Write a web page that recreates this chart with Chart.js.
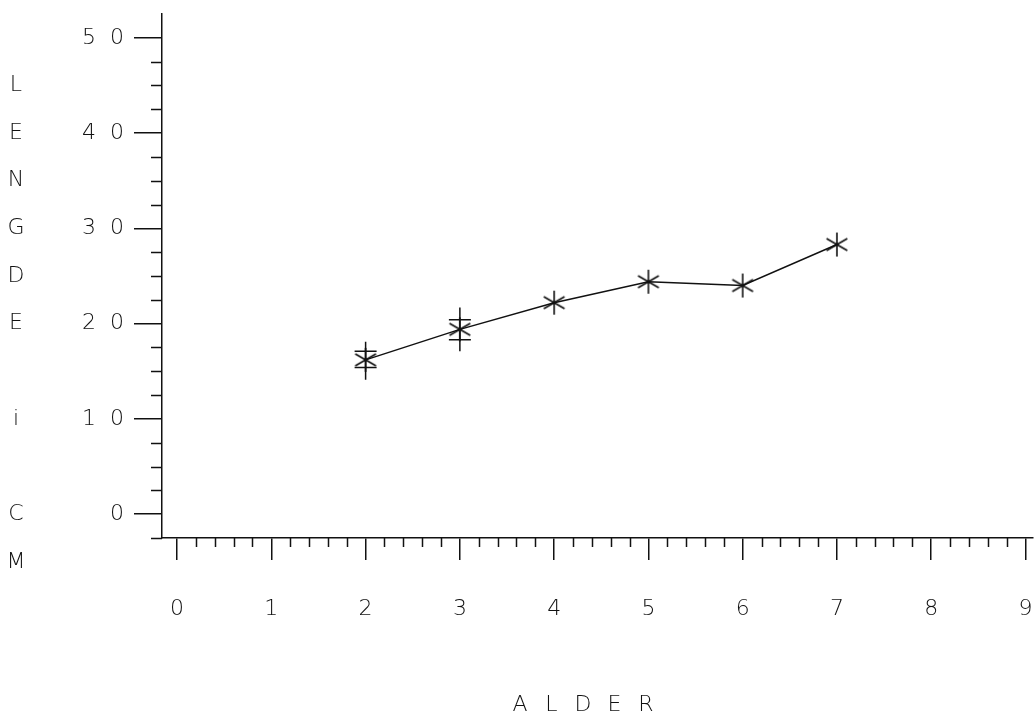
<!DOCTYPE html>
<html>
<head>
<meta charset="utf-8">
<script src="https://cdn.jsdelivr.net/npm/chart.js@4.4.1/dist/chart.umd.min.js"></script>
<style>
  html, body { margin: 0; padding: 0; background: #fff; }
  #wrap { width: 1035px; height: 723px; }
</style>
</head>
<body>
<div id="wrap"><canvas id="chart-lengde" width="1035" height="723"></canvas></div>
<script>
//---------------------data----------------------
var alder = [2, 3, 4, 5, 6, 7];
var lengde = [16.2, 19.4, 22.2, 24.4, 24.0, 28.3];

// spredning for alder 2 og 3 (linje + korte tverrstreker)
var spredAlder = [2, 3];
var spredLav = [14.1, 17.1];
var spredHoy = [18.1, 21.7];
var tverrLav = [15.4, 18.3];
var tverrHoy = [17.1, 20.4];

var xTicks = [0, 1, 2, 3, 4, 5, 6, 7, 8, 9];
var yTicks = [0, 10, 20, 30, 40, 50];
var yTittel = ['L', 'E', 'N', 'G', 'D', 'E', ' ', 'i', ' ', 'C', 'M'];
var xTittel = ['A', 'L', 'D', 'E', 'R'];

var FONT = '"DejaVu Sans", sans-serif';
var INK = '#111';

//---------------------asterisk marker----------------------
function lagStjerne(r) {
    var c = document.createElement('canvas');
    c.width = c.height = r * 2 + 4;
    var g = c.getContext('2d');
    var m = r + 2;
    g.strokeStyle = INK;
    g.lineWidth = 1.6;
    g.beginPath();
    for (var k = 0; k < 3; k++) {
        var a = Math.PI / 2 + k * Math.PI / 3;
        g.moveTo(m + Math.cos(a) * r, m - Math.sin(a) * r);
        g.lineTo(m - Math.cos(a) * r, m + Math.sin(a) * r);
    }
    g.stroke();
    return c;
}
var stjerne = lagStjerne(12);

//---------------------plugin: minor ticks, error bars, titles----------------------
var ekstra = {
    id: 'ekstra',
    afterDraw: function (chart) {
        var ctx = chart.ctx;
        var xs = chart.scales.x, ys = chart.scales.y;
        var area = chart.chartArea;
        ctx.save();
        ctx.strokeStyle = INK;
        ctx.lineWidth = 1.5;
        ctx.beginPath();
        // minor x ticks (hver 0.2)
        for (var i = 1; i < 46; i++) {
            if (i % 5 === 0) continue;
            var v = i / 5;
            if (v > xs.max) break;
            var px = Math.round(xs.getPixelForValue(v)) + 0.5;
            ctx.moveTo(px, area.bottom);
            ctx.lineTo(px, area.bottom + 9);
        }
        // minor y ticks (hver 2.5)
        for (var j = -1; j < 20; j++) {
            if (j % 4 === 0) continue;
            var py = Math.round(ys.getPixelForValue(j * 2.5)) + 0.5;
            ctx.moveTo(area.left, py);
            ctx.lineTo(area.left - 11, py);
        }
        ctx.stroke();

        // spredning
        ctx.beginPath();
        for (var s = 0; s < spredAlder.length; s++) {
            var sx = xs.getPixelForValue(spredAlder[s]);
            ctx.moveTo(sx, ys.getPixelForValue(spredLav[s]));
            ctx.lineTo(sx, ys.getPixelForValue(spredHoy[s]));
            var lo = ys.getPixelForValue(tverrLav[s]);
            var hi = ys.getPixelForValue(tverrHoy[s]);
            ctx.moveTo(sx - 11, lo); ctx.lineTo(sx + 11, lo);
            ctx.moveTo(sx - 11, hi); ctx.lineTo(sx + 11, hi);
        }
        ctx.stroke();

        // akse-titler
        ctx.fillStyle = INK;
        ctx.font = '200 22px ' + FONT;
        ctx.textAlign = 'center';
        ctx.textBaseline = 'middle';
        for (var t = 0; t < yTittel.length; t++) {
            ctx.fillText(yTittel[t], 16, ys.getPixelForValue(45 - 5 * t));
        }
        for (var u = 0; u < xTittel.length; u++) {
            ctx.fillText(xTittel[u], 520 + 31.5 * u, 705);
        }
        ctx.restore();
    }
};

//---------------------chart----------------------
var punkter = alder.map(function (a, i) { return { x: a, y: lengde[i] }; });

var ctxL = document.getElementById('chart-lengde').getContext('2d');
var chart_lengde = new Chart(ctxL, {
    type: 'scatter',
    data: {
        datasets: [{
            label: 'Lengde',
            data: punkter,
            showLine: true,
            borderColor: INK,
            borderWidth: 1.5,
            pointStyle: stjerne,
            pointRadius: 12,
            tension: 0
        }]
    },
    options: {
        responsive: false,
        animation: false,
        events: [],
        layout: { autoPadding: false, padding: { top: 14, right: 2, left: 0, bottom: 0 } },
        plugins: {
            legend: { display: false },
            tooltip: { enabled: false }
        },
        scales: {
            x: {
                type: 'linear',
                min: -0.16,
                max: 9.08,
                afterBuildTicks: function (scale) {
                    scale.ticks = xTicks.map(function (v) { return { value: v }; });
                },
                afterFit: function (scale) {
                    scale.height = 185;
                    scale.paddingLeft = 0;
                    scale.paddingRight = 0;
                },
                border: { display: true, color: INK, width: 1.5 },
                grid: {
                    display: true,
                    drawOnChartArea: false,
                    drawTicks: true,
                    tickLength: 22,
                    color: INK,
                    lineWidth: 1.5
                },
                ticks: {
                    color: INK,
                    font: { family: FONT, size: 22, weight: '200' },
                    padding: 36,
                    maxRotation: 0,
                    autoSkip: false
                }
            },
            y: {
                type: 'linear',
                min: -2.5,
                max: 52.5,
                afterBuildTicks: function (scale) {
                    scale.ticks = yTicks.map(function (v) { return { value: v }; });
                },
                afterFit: function (scale) {
                    scale.width = 162;
                    scale.paddingTop = 0;
                    scale.paddingBottom = 0;
                },
                border: { display: true, color: INK, width: 1.5 },
                grid: {
                    display: true,
                    drawOnChartArea: false,
                    drawTicks: true,
                    tickLength: 28,
                    color: INK,
                    lineWidth: 1.5
                },
                ticks: {
                    color: INK,
                    font: { family: FONT, size: 22, weight: '200' },
                    padding: 10,
                    callback: function (v) { return String(v).split('').join('  '); }
                }
            }
        }
    },
    plugins: [ekstra]
});
</script>
</body>
</html>
